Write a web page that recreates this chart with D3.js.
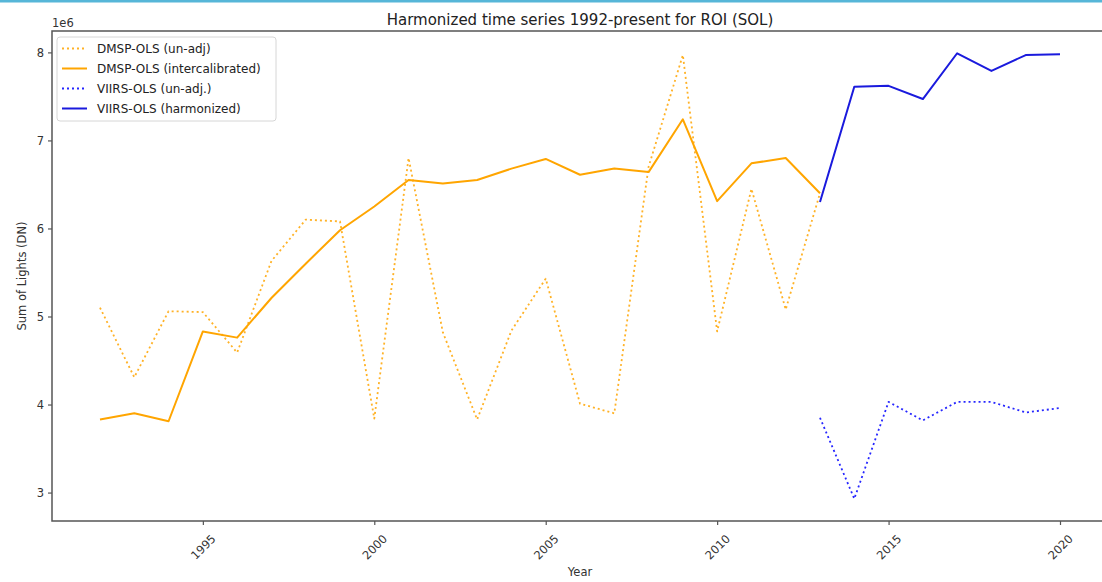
<!DOCTYPE html>
<html>
<head>
<meta charset="utf-8">
<script src="https://cdn.jsdelivr.net/npm/d3@7"></script>
<style>
  html, body { margin: 0; padding: 0; background: #fff; }
  svg { display: block; font-family: "DejaVu Sans", sans-serif; }
</style>
</head>
<body>
<svg id="chart" width="1102" height="582"></svg>
<script>
// Sum of Lights (DN) per year for the ROI
const dmspYears = [1992, 1993, 1994, 1995, 1996, 1997, 1998, 1999, 2000, 2001, 2002,
                   2003, 2004, 2005, 2006, 2007, 2008, 2009, 2010, 2011, 2012, 2013];
const dmspRaw = [5.10, 4.31, 5.06, 5.05, 4.59, 5.63, 6.10, 6.08, 3.84, 6.80, 4.82,
                 3.83, 4.84, 5.43, 4.01, 3.90, 6.70, 7.97, 4.83, 6.45, 5.08, 6.40].map(v => v * 1e6);
const dmspCal = [3.83, 3.90, 3.81, 4.83, 4.76, 5.21, 5.60, 5.98, 6.25, 6.55, 6.51,
                 6.55, 6.68, 6.79, 6.61, 6.68, 6.64, 7.24, 6.31, 6.74, 6.80, 6.40].map(v => v * 1e6);
const viirsYears = [2013, 2014, 2015, 2016, 2017, 2018, 2019, 2020];
const viirsRaw = [3.85, 2.93, 4.03, 3.82, 4.03, 4.03, 3.91, 3.96].map(v => v * 1e6);
const viirsHarm = [6.30, 7.61, 7.62, 7.47, 7.99, 7.79, 7.97, 7.98].map(v => v * 1e6);

const xTicks = [1995, 2000, 2005, 2010, 2015, 2020];
const yTicks = [3e6, 4e6, 5e6, 6e6, 7e6, 8e6];

const seriesList = [
  { name: "DMSP-OLS (un-adj)", years: dmspYears, values: dmspRaw, color: "#ffa500", dotted: true },
  { name: "DMSP-OLS (intercalibrated)", years: dmspYears, values: dmspCal, color: "#ffa500", dotted: false },
  { name: "VIIRS-OLS (un-adj.)", years: viirsYears, values: viirsRaw, color: "#0000ff", dotted: true },
  { name: "VIIRS-OLS (harmonized)", years: viirsYears, values: viirsHarm, color: "#1a1add", dotted: false }
];

const svg = d3.select("#chart");
const W = 1102, H = 582;
const plot = { left: 52, right: 1108, top: 31, bottom: 521 };

// thin accent strip along the top edge
svg.append("rect").attr("x", 0).attr("y", 0).attr("width", W).attr("height", 2.5).attr("fill", "#56b6d8");

// axis limits with 5% padding around the data
const allYears = dmspYears.concat(viirsYears);
const allVals = dmspRaw.concat(dmspCal, viirsRaw, viirsHarm);
const [x0, x1] = d3.extent(allYears);
const [y0, y1] = d3.extent(allVals);
const xm = (x1 - x0) * 0.05, ym = (y1 - y0) * 0.05;

const x = d3.scaleLinear().domain([x0 - xm, x1 + xm]).range([plot.left, plot.right]);
const y = d3.scaleLinear().domain([y0 - ym, y1 + ym]).range([plot.bottom, plot.top]);

const axisColor = "#555";
const textColor = "#333";

// lines
const line = d3.line().x(d => x(d[0])).y(d => y(d[1]));
const lines = svg.append("g");
seriesList.forEach(s => {
  lines.append("path")
    .datum(s.years.map((yr, i) => [yr, s.values[i]]))
    .attr("d", line)
    .attr("fill", "none")
    .attr("stroke", s.color)
    .attr("stroke-width", s.dotted ? 1.8 : 2)
    .attr("stroke-linejoin", "round")
    .attr("stroke-dasharray", s.dotted ? "2,3" : null)
    .attr("opacity", s.dotted ? 0.85 : 1);
});

// spines
svg.append("rect")
  .attr("x", plot.left).attr("y", plot.top)
  .attr("width", plot.right - plot.left).attr("height", plot.bottom - plot.top)
  .attr("fill", "none").attr("stroke", axisColor).attr("stroke-width", 1.5);

// x axis
const xAxis = svg.append("g").attr("transform", `translate(0,${plot.bottom})`)
  .call(d3.axisBottom(x).tickValues(xTicks).tickSize(4).tickFormat(d3.format("d")));
xAxis.select(".domain").remove();
xAxis.selectAll(".tick line").attr("stroke", axisColor).attr("stroke-width", 1.2);
xAxis.selectAll(".tick text")
  .attr("fill", textColor).attr("font-size", 11.5)
  .attr("font-family", "DejaVu Sans, sans-serif")
  .attr("y", 0).attr("dy", null)
  .attr("text-anchor", "middle")
  .attr("dominant-baseline", "central")
  .attr("transform", "translate(0,26) rotate(-45)");

// y axis
const yAxis = svg.append("g").attr("transform", `translate(${plot.left},0)`)
  .call(d3.axisLeft(y).tickValues(yTicks).tickSize(4).tickPadding(4).tickFormat(d => d / 1e6));
yAxis.select(".domain").remove();
yAxis.selectAll(".tick line").attr("stroke", axisColor).attr("stroke-width", 1.2);
yAxis.selectAll(".tick text").attr("fill", textColor).attr("font-size", 11.5)
  .attr("font-family", "DejaVu Sans, sans-serif");

// offset text
svg.append("text").attr("x", plot.left).attr("y", 27)
  .attr("font-size", 11.5).attr("fill", textColor).text("1e6");

// title and axis labels
svg.append("text").attr("x", 580).attr("y", 25)
  .attr("text-anchor", "middle").attr("font-size", 15).attr("fill", "#222")
  .text("Harmonized time series 1992-present for ROI (SOL)");

svg.append("text").attr("x", 580).attr("y", 576)
  .attr("text-anchor", "middle").attr("font-size", 11.5).attr("fill", textColor)
  .text("Year");

svg.append("text")
  .attr("transform", `translate(26,${(plot.top + plot.bottom) / 2}) rotate(-90)`)
  .attr("text-anchor", "middle").attr("font-size", 11.5).attr("fill", textColor)
  .text("Sum of Lights (DN)");

// legend
const legend = svg.append("g").attr("transform", "translate(57,37)");
legend.append("rect").attr("x", 0).attr("y", 0).attr("width", 219).attr("height", 84)
  .attr("rx", 3).attr("fill", "#fff").attr("fill-opacity", 0.8)
  .attr("stroke", "#d6d6d6").attr("stroke-width", 1);
seriesList.forEach((s, i) => {
  const cy = 11.5 + i * 20;
  legend.append("line").attr("x1", 5).attr("x2", 30).attr("y1", cy).attr("y2", cy)
    .attr("stroke", s.color).attr("stroke-width", s.dotted ? 1.8 : 2)
    .attr("stroke-dasharray", s.dotted ? "2,3" : null)
    .attr("opacity", s.dotted ? 0.85 : 1);
  legend.append("text").attr("x", 40).attr("y", cy).attr("dy", "0.35em")
    .attr("font-size", 12).attr("fill", "#222").text(s.name);
});
</script>
</body>
</html>
